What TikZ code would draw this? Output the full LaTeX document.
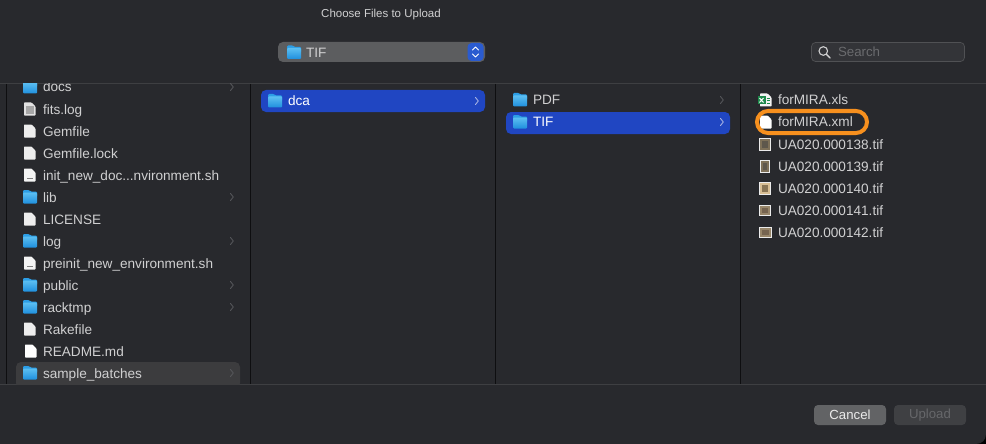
\documentclass[tikz,border=0pt]{standalone}
\usepackage{fontspec}
\setmainfont{Liberation Sans}
\definecolor{winbg}{HTML}{28292D}
\definecolor{linec}{HTML}{3E3F42}
\definecolor{colsep}{HTML}{0E0E10}
\definecolor{txt}{HTML}{D0D0D1}
\definecolor{sel}{HTML}{2046C2}
\definecolor{hov}{HTML}{3C3C3E}
\definecolor{foldA}{HTML}{5CBFF2}
\definecolor{foldB}{HTML}{1F8FDD}
\definecolor{foldTab}{HTML}{2C9EE6}
\definecolor{chev}{HTML}{55565A}
\definecolor{chevsel}{HTML}{A8B4E4}
\definecolor{orangeR}{HTML}{F7901E}
\definecolor{popbg}{HTML}{5C5D5F}
\definecolor{popbtn}{HTML}{2A5BD0}
\definecolor{searchbg}{HTML}{333438}
\definecolor{searchln}{HTML}{505154}
\definecolor{searchtx}{HTML}{6A6B6E}
\definecolor{cancelbg}{HTML}{626365}
\definecolor{uploadbg}{HTML}{3F4043}
\definecolor{uploadtx}{HTML}{66676A}
\definecolor{thA}{HTML}{7E7058}
\definecolor{thB}{HTML}{5E574C}
\definecolor{thC}{HTML}{D8BE94}
\definecolor{thD}{HTML}{8A7554}
\definecolor{thE}{HTML}{98866A}
\definecolor{thF}{HTML}{766450}
\definecolor{xlsgreen}{HTML}{1F8A4C}
\tikzset{
  lbl/.style={anchor=base west,inner sep=0pt,outer sep=0pt,yshift=-.5pt,text=txt,font=\fontsize{13.6}{15}\selectfont},
  lblsel/.style={lbl,text=white},
  titlelbl/.style={inner sep=0pt,text=txt,font=\fontsize{11.5}{13}\selectfont},
  btnlbl/.style={inner sep=0pt,font=\fontsize{13.2}{15}\selectfont},
  chevline/.style={draw=chev,line width=.9pt,line cap=round,line join=round},
  sepline/.style={draw=colsep,line width=1pt},
  hline/.style={draw=linec,line width=1pt},
}
\newcommand{\foldericon}[2]{%
  \begin{scope}[shift={(#1,#2)}]
    \fill[foldTab,rounded corners=1pt] (0,-7) -- (6,-7) -- (7.5,-5.5) -- (14,-5.5) -- (14,0) -- (0,0) -- cycle;
    \shade[top color=foldA,bottom color=foldB,rounded corners=1pt] (0,-4.5) rectangle (14,6.5);
  \end{scope}}
\newcommand{\fileicon}[3][EDEDED]{%
  \begin{scope}[shift={(#2,#3)}]
    \definecolor{fic}{HTML}{#1}
    \fill[fic,rounded corners=.7pt] (0,-6.5) -- (7.5,-6.5) -- (11.5,-2.5) -- (11.5,6.5) -- (0,6.5) -- cycle;
  \end{scope}}
\newcommand{\scripticon}[2]{\fileicon[F4F4F4]{#1}{#2}\fill[gray] (#1+3,#2+3) rectangle (#1+8.5,#2+4);}
\newcommand{\logicon}[2]{\fileicon[E2E2E2]{#1}{#2}\fill[gray!70] (#1+2,#2-3) rectangle (#1+9.5,#2+5);}
% thumbnail: centre x, centre y, width, height, outer colour, inner colour
\newcommand{\thumb}[6]{%
  \fill[white!92!black] (#1-#3/2,#2-#4/2) rectangle (#1+#3/2,#2+#4/2);
  \fill[#5] (#1+1-#3/2,#2+1-#4/2) rectangle (#1-1+#3/2,#2-1+#4/2);
  \fill[#6] (#1+3-#3/2,#2+3-#4/2) rectangle (#1-3+#3/2,#2-3+#4/2);}
\newcommand{\chevron}[2]{\draw[chevline] (#1,#2-3.5) -- (#1+2.8,#2) -- (#1,#2+3.5);}
\begin{document}
\begin{tikzpicture}[x=1pt,y=-1pt]
\useasboundingbox (0,0) rectangle (986,444);
\fill[black] (0,0) rectangle (986,444);
\fill[winbg] (0,0) -- (986,0) -- (986,434) .. controls (986,440) and (982,444) .. (976,444) -- (0,444) -- cycle;

\node[titlelbl] (title) at (381,14.5) {Choose Files to Upload};

% path popup
\fill[popbg,rounded corners=5pt] (278,42) rectangle (485,62);
\fill[popbtn,rounded corners=4pt] (467.5,43) rectangle (483.5,61);
\draw[white,line width=.9pt,line cap=round,line join=round] (472.5,50) -- (475.5,47) -- (478.5,50);
\draw[white,line width=.9pt,line cap=round,line join=round] (472.5,54) -- (475.5,57) -- (478.5,54);
\foldericon{287}{52.5}
\node[lbl,text=txt] (popup) at (306,56.8) {TIF};

% search field
\fill[searchbg,rounded corners=4pt,draw=searchln,line width=.7pt] (811.5,42.5) rectangle (964.5,61.5);
\draw[txt,line width=1.1pt] (823.3,51) circle[radius=4.3];
\draw[txt,line width=1.4pt,line cap=round] (826.5,54.3) -- (830,58);
\node[lbl,text=searchtx,font=\fontsize{13.3}{15}\selectfont] (search) at (838,56.5) {Search};

% panes
\draw[hline] (0,83.5) -- (986,83.5);
\draw[hline] (0,384.5) -- (986,384.5);
\foreach \xx in {6,250.5,495.5,740.5}{\draw[sepline] (\xx,84) -- (\xx,384);}

% column 1
\begin{scope}
\clip (7,84) rectangle (250,384);
\fill[hov,rounded corners=5pt] (16,362) rectangle (240,388);
\foldericon{23}{87}
\node[lbl] (docs) at (43,91.5) {docs};
\logicon{24}{109}
\node[lbl] (fits) at (43,113.5) {fits.log};
\fileicon{24}{131}
\node[lbl] (gem) at (43,135.5) {Gemfile};
\fileicon{24}{153}
\node[lbl] (gemlock) at (43,157.5) {Gemfile.lock};
\scripticon{24}{175}
\node[lbl] (init) at (43,179.5) {init\_new\_doc...nvironment.sh};
\foldericon{23}{197}
\node[lbl] (lib) at (43,201.5) {lib};
\fileicon{24}{219}
\node[lbl] (license) at (43,223.5) {LICENSE};
\foldericon{23}{241}
\node[lbl] (log) at (43,245.5) {log};
\scripticon{24}{263}
\node[lbl] (preinit) at (43,267.5) {preinit\_new\_environment.sh};
\foldericon{23}{285}
\node[lbl] (public) at (43,289.5) {public};
\foldericon{23}{307}
\node[lbl] (racktmp) at (43,311.5) {racktmp};
\fileicon{24}{329}
\node[lbl] (rake) at (43,333.5) {Rakefile};
\fileicon[FFFFFF]{25}{351}
\node[lbl] (readme) at (43,355.5) {README.md};
\foldericon{23}{373}
\node[lbl] (sample) at (43,377.5) {sample\_batches};
\foreach \yy in {87,197,241,285,307,373}{\chevron{230.5}{\yy}}
\end{scope}

% column 2
\fill[sel,rounded corners=5pt] (261,90) rectangle (485,112);
\foldericon{268}{101}
\node[lblsel] (dca) at (288,105.5) {dca};
\draw[chevline,draw=chevsel] (475.5,97.5) -- (478.3,101) -- (475.5,104.5);

% column 3
\foldericon{513}{100}
\node[lbl] (pdf) at (533,104.5) {PDF};
\chevron{720.5}{100}
\fill[sel,rounded corners=5pt] (506,112) rectangle (730,134);
\foldericon{513}{122}
\node[lblsel] (tif) at (533,126.5) {TIF};
\draw[chevline,draw=chevsel] (720.5,118.5) -- (723.3,122) -- (720.5,125.5);

% column 4
\fileicon[F4F4F4]{760}{100}
\fill[xlsgreen] (757.5,96) rectangle (765.5,104.5);
\draw[white,line width=1pt] (759.5,98) -- (763.5,102.5) (763.5,98) -- (759.5,102.5);
\draw[xlsgreen,line width=.8pt] (766.5,98) -- (770,98) (766.5,100.5) -- (770,100.5) (766.5,103) -- (770,103);
\node[lbl] (xls) at (778,104.5) {forMIRA.xls};
\fileicon[FFFFFF]{760}{122}
\node[lbl] (xml) at (778,126.5) {forMIRA.xml};
\thumb{765}{144}{12}{13}{thA}{thB}
\node[lbl] (t138) at (778,148.5) {UA020.000138.tif};
\thumb{765}{166}{10}{13}{thA}{thB}
\node[lbl] (t139) at (778,170.5) {UA020.000139.tif};
\thumb{765}{188}{12}{13}{thC}{thD}
\node[lbl] (t140) at (778,192.5) {UA020.000140.tif};
\thumb{765}{210}{12}{11}{thE}{thF}
\node[lbl] (t141) at (778,214.5) {UA020.000141.tif};
\thumb{765}{232}{13}{11}{thE}{thF}
\node[lbl] (t142) at (778,236.5) {UA020.000142.tif};
\draw[orangeR,line width=4pt,rounded corners=11pt] (757,111) rectangle (867,133);

% buttons
\fill[cancelbg,rounded corners=4pt] (814,405) rectangle (886,425);
\node[btnlbl,text=white!92!black] (cancel) at (850,414.8) {Cancel};
\fill[uploadbg,rounded corners=4pt] (894,405) rectangle (966,425);
\node[btnlbl,text=uploadtx] (upload) at (930,414.8) {Upload};
\end{tikzpicture}
\end{document}
